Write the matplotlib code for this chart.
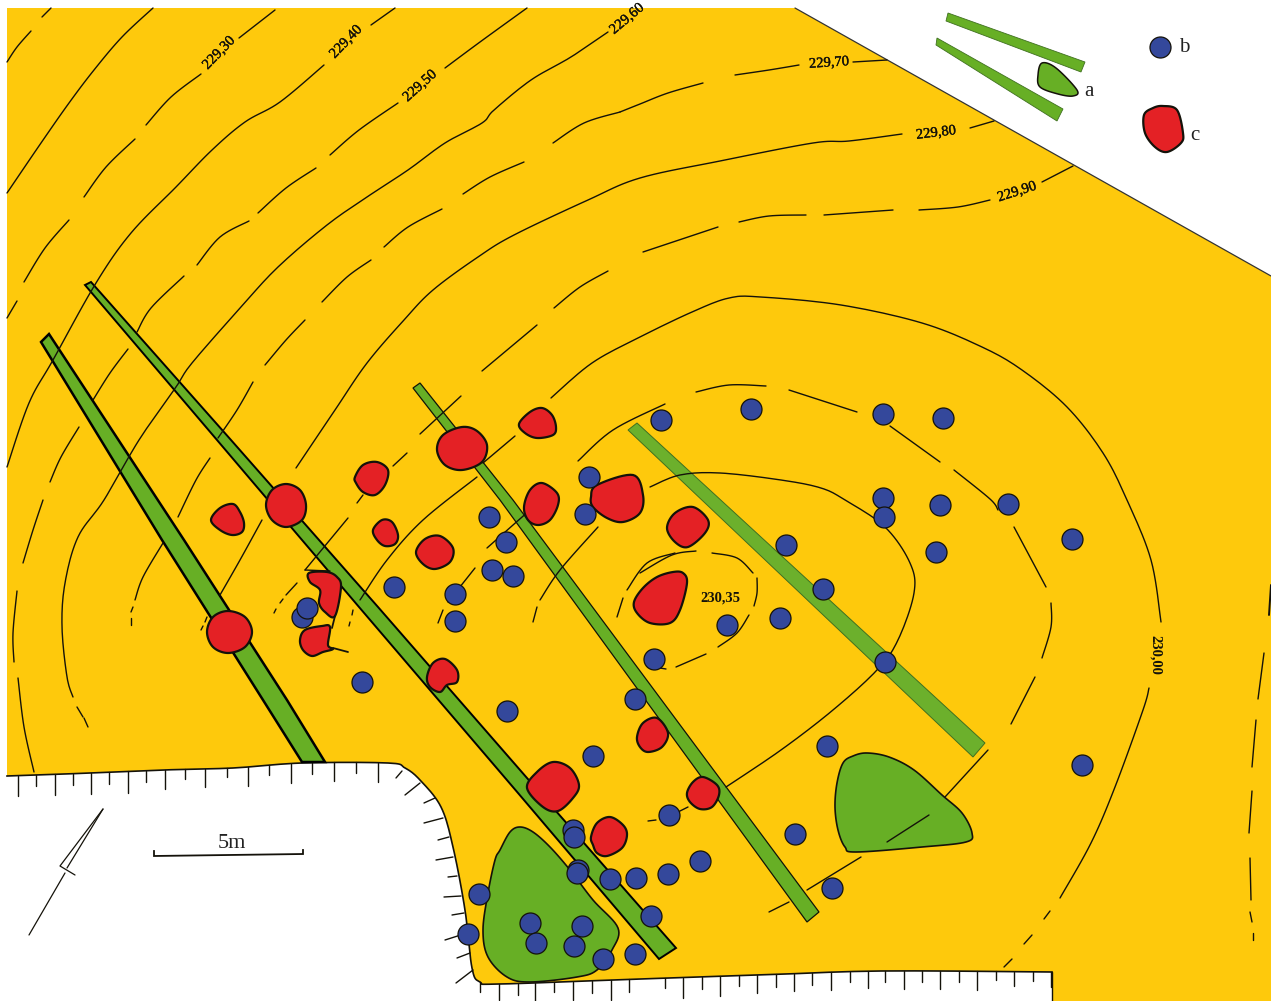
import numpy as np
import matplotlib
matplotlib.use("Agg")
import matplotlib.pyplot as plt
import matplotlib.patheffects as pe
from matplotlib.patches import Polygon

YELLOW = "#fec90c"
GREEN = "#67af25"
RED = "#e42125"
BLUE = "#34489b"
INK = "#14120a"
SERIF = ["Liberation Serif", "DejaVu Serif"]

# pit edge, left to right along the white cut-out
edge_pts = [(7, 776), (65, 774), (163, 770), (233, 768), (302, 763), (388, 763), (405, 768),
            (420, 780), (441, 807), (453, 847), (465, 910), (472, 968), (480, 982), (500, 984), (640, 979),
            (761, 975), (881, 971), (1052, 972)]
site_corners = [(1052, 1001), (1271, 1001), (1271, 276), (795, 8), (7, 8)]

# hachures
top_tick_x = [18, 36, 55, 73, 91, 109, 128, 146, 165, 185, 205, 227, 248, 269, 291, 312, 334, 356, 378]
top_tick_end = [796, 786, 795, 785, 794, 784, 793, 782, 789, 779, 787, 777, 786, 775, 783, 774, 781, 773, 782]
bottom_tick_x = [480, 499, 518, 535, 554, 573, 592, 611, 629, 665, 683, 702, 720, 739, 757, 776, 794, 812,
                 831, 850, 868, 885, 904, 922, 940, 959, 977, 996, 1014, 1033, 1051]
bottom_tick_end = [992, 1000, 995, 1001, 992, 1000, 993, 1000, 992, 988, 998, 989, 996, 986, 993, 987, 991,
                   985, 990, 982, 988, 982, 989, 982, 989, 982, 990, 980, 986, 981, 987]
side_ticks = [[(396, 778), (402, 771)], [(405, 795), (420, 783)], [(424, 803), (435, 798)],
              [(424, 823), (443, 818)], [(438, 840), (449, 837)], [(436, 860), (453, 857)],
              [(448, 877), (457, 876)], [(444, 897), (461, 896)], [(452, 915), (464, 913)],
              [(445, 940), (467, 933)], [(457, 958), (470, 953)], [(456, 983), (473, 970)]]

# contour lines, one list of dashes per level
level_a = [[(7, 62), (17, 47), (31, 31)], [(42, 17), (51, 8)]]
level_b = [[(153, 8), (122, 37), (94, 70), (69, 103), (41, 143), (7, 193)]]
level_c = [[(275, 10), (239, 38)], [(201, 74), (171, 97), (146, 125)], [(135, 139), (106, 167), (84, 197)],
           [(69, 220), (45, 248), (24, 282)], [(17, 301), (7, 318)]]
level_d = [[(395, 8), (371, 25)], [(324, 65), (280, 102), (245, 122), (212, 150), (176, 187), (131, 233),
                                   (96, 283), (53, 360), (29, 403), (7, 467)],
           [(43, 500), (33, 530), (23, 563)], [(17, 591), (13, 633), (14, 662)], [(18, 678), (24, 727), (34, 772)]]
level_e = [[(527, 8), (480, 42), (445, 68)], [(398, 103), (359, 130), (330, 155)], [(316, 168), (286, 188), (258, 213)],
           [(249, 221), (220, 237), (197, 265)], [(184, 276), (151, 308), (137, 332)], [(128, 349), (110, 373), (93, 400)],
           [(79, 427), (61, 457), (50, 482)]]
level_f = [[(608, 32), (571, 57), (531, 80), (494, 110), (482, 123), (445, 143), (408, 170), (367, 197), (327, 225),
            (278, 267), (241, 307), (192, 363), (176, 387), (139, 440), (104, 500), (78, 537), (65, 583), (62, 627),
            (67, 677), (73, 697)], [(77, 707), (83, 717)], [(84, 718), (88, 727)]]
level_g = [[(887, 60), (853, 62)], [(799, 65), (769, 70), (735, 75)], [(703, 83), (668, 93), (640, 104), (620, 112)],
           [(620, 112), (584, 123), (553, 143)], [(524, 162), (490, 177), (463, 194)], [(442, 209), (408, 227), (384, 247)],
           [(371, 260), (347, 277), (322, 302)], [(305, 320), (286, 340), (265, 365)], [(253, 382), (237, 410), (218, 438)],
           [(210, 458), (196, 480), (178, 517)], [(163, 543), (143, 577), (135, 600)], [(133, 607), (131, 612)],
           [(131, 618), (131, 625)]]
level_h = [[(994, 121), (970, 128)], [(902, 134), (849, 141), (813, 143), (720, 161), (640, 178), (588, 200), (514, 235),
                                      (478, 257), (433, 290), (404, 320), (367, 363), (335, 410), (296, 468)],
           [(262, 520), (240, 560), (220, 595)], [(207, 617), (205, 622)], [(203, 626), (201, 630)]]
level_i = [[(1073, 166), (1042, 182)], [(990, 200), (958, 207), (919, 210)], [(893, 210), (824, 215)],
           [(806, 215), (769, 216), (739, 222)], [(718, 227), (643, 252)], [(608, 271), (580, 287), (554, 308)],
           [(537, 325), (482, 371)], [(461, 396), (420, 434)], [(407, 453), (393, 466)], [(363, 495), (357, 503)],
           [(348, 518), (305, 570)], [(305, 570), (330, 571)], [(297, 583), (286, 595)], [(283, 599), (280, 603)],
           [(276, 609), (274, 613)]]
level_j = [[(515, 436), (483, 463)], [(477, 477), (423, 520), (387, 560), (360, 600)], [(353, 610), (352, 615)],
           [(350, 622), (349, 626)]]
level_230 = [[(1161, 622), (1151, 560), (1127, 500), (1103, 453), (1067, 407), (1022, 370), (982, 347), (922, 323),
              (841, 305), (761, 297), (729, 298), (692, 312), (640, 337), (592, 363), (551, 398)],
             [(1149, 688), (1143, 710), (1115, 787), (1091, 843), (1060, 898)], [(1050, 911), (1044, 919)],
             [(1032, 935), (1024, 944)], [(1012, 959), (1004, 967)]]
level_k = [[(665, 404), (613, 430), (578, 461)], [(696, 392), (729, 385), (766, 386)], [(789, 390), (857, 412)],
           [(890, 426), (940, 462)], [(954, 470), (990, 499), (998, 510)], [(1014, 527), (1046, 587)],
           [(1051, 603), (1051, 627), (1042, 658)], [(1035, 677), (1011, 724)], [(988, 750), (945, 797)],
           [(929, 815), (887, 842)], [(861, 857), (807, 890)], [(789, 902), (769, 912)],
           [(598, 527), (560, 570), (540, 600)], [(537, 607), (533, 622)]]
level_l = [[(530, 510), (487, 548)], [(475, 568), (448, 602)], [(443, 610), (438, 623)]]
level_m = [[(650, 487), (680, 475), (720, 473), (781, 480), (821, 488), (845, 500), (885, 527), (910, 563), (914, 593),
            (898, 640), (877, 670), (833, 710), (781, 750), (726, 787)], [(688, 807), (678, 812)], [(656, 820), (648, 821)],
           [(675, 553), (647, 563), (627, 590)], [(623, 598), (617, 617)]]
level_top = [[(696, 551), (672, 555), (640, 573)], [(712, 553), (737, 558), (753, 573)], [(757, 578), (757, 593), (754, 606)],
             [(749, 615), (737, 633), (718, 647)], [(706, 654), (676, 667)], [(666, 669), (660, 668)]]
level_east = [[(1264, 653), (1258, 699)], [(1256, 720), (1252, 767)], [(1252, 791), (1249, 833)],
              [(1250, 858), (1251, 900)], [(1250, 912), (1252, 922)], [(1253, 933), (1253, 940)]]
contours = [level_a, level_b, level_c, level_d, level_e, level_f, level_g, level_h, level_i,
            level_j, level_230, level_k, level_l, level_m, level_top, level_east]

label_text = ["229,30", "229,40", "229,50", "229,60", "229,70", "229,80", "229,90", "230,00", "230,35"]
label_xy = [(219, 53), (346, 42), (420, 86), (627, 19), (829, 63), (936, 133), (1017, 192), (1155, 655), (720, 598)]
label_rot = [46, 46, 42, 40, 4, 7, 18, 270, 0]

# trenches, drawn as a left side and a right side from the north end down
strip_1_left = [(41, 342), (162, 540), (263, 700), (302, 762)]
strip_1_right = [(49, 334), (184, 540), (287, 700), (325, 762)]
strip_2_left = [(85, 285), (217, 440), (359, 607), (518, 793), (659, 959)]
strip_2_right = [(91, 282), (231, 440), (378, 607), (527, 778), (676, 948)]
strip_3_left = [(413, 388), (500, 500), (807, 922)]
strip_3_right = [(420, 383), (513, 500), (819, 912)]
strip_4_left = [(628, 430), (973, 757)]
strip_4_right = [(637, 423), (985, 743)]
key_strip_1 = [(948, 13), (1085, 62), (1081, 72), (946, 21)]
key_strip_2 = [(937, 38), (1063, 109), (1057, 121), (936, 45)]

# green areas
pit_west = [(500, 850), (510, 832), (520, 827), (533, 832), (550, 847), (570, 870), (593, 900), (618, 928), (612, 950),
            (597, 970), (577, 977), (530, 982), (507, 977), (488, 957), (483, 930), (488, 893), (495, 860)]
pit_east = [(867, 753), (889, 757), (914, 770), (942, 795), (962, 813), (972, 833), (966, 842), (922, 847),
            (856, 852), (845, 847), (838, 830), (835, 807), (837, 783), (843, 763), (853, 756)]
key_pit = [(1042, 63), (1056, 68), (1077, 90), (1073, 96), (1058, 94), (1040, 87), (1038, 75)]

# red features
red_features = [
    [(207, 632), (213, 617), (228, 611), (245, 617), (252, 632), (245, 647), (228, 653), (213, 647)],
    [(266, 505), (272, 490), (286, 484), (300, 490), (306, 505), (302, 520), (286, 527), (272, 520)],
    [(211, 520), (220, 508), (233, 504), (240, 512), (244, 523), (242, 532), (232, 535), (220, 530)],
    [(437, 450), (443, 435), (462, 427), (477, 431), (487, 445), (482, 462), (462, 470), (445, 465)],
    [(519, 424), (530, 412), (542, 408), (552, 415), (556, 427), (553, 435), (537, 438), (525, 433)],
    [(355, 477), (363, 465), (377, 462), (388, 470), (385, 485), (375, 495), (363, 492), (356, 483)],
    [(373, 530), (382, 520), (392, 522), (398, 535), (395, 544), (385, 546), (377, 540)],
    [(416, 552), (425, 539), (440, 536), (453, 548), (450, 562), (435, 569), (423, 564)],
    [(524, 507), (530, 490), (542, 483), (557, 493), (558, 505), (550, 520), (538, 525), (528, 520)],
    [(591, 497), (597, 485), (633, 475), (643, 495), (640, 513), (623, 522), (607, 518), (593, 507)],
    [(667, 528), (675, 513), (693, 507), (708, 520), (705, 533), (688, 547), (675, 542)],
    [(634, 602), (643, 588), (657, 577), (673, 572), (683, 573), (687, 583), (680, 610), (670, 623), (650, 623), (637, 613)],
    [(309, 573), (327, 572), (337, 577), (341, 587), (335, 616), (325, 612), (319, 603), (320, 590), (310, 582)],
    [(300, 640), (305, 630), (322, 626), (330, 627), (328, 645), (333, 649), (323, 652), (312, 656), (303, 650)],
    [(427, 677), (433, 663), (445, 659), (457, 670), (457, 682), (447, 685), (440, 692), (430, 687)],
    [(527, 788), (537, 772), (553, 762), (570, 768), (579, 785), (573, 798), (558, 811), (543, 807)],
    [(591, 837), (597, 823), (610, 817), (623, 825), (627, 835), (622, 848), (607, 856), (597, 853), (593, 845)],
    [(637, 737), (643, 723), (657, 718), (668, 733), (662, 747), (648, 752), (640, 747)],
    [(687, 793), (693, 782), (703, 777), (717, 785), (719, 795), (712, 807), (700, 809), (690, 802)],
    [(1163, 106), (1177, 110), (1183, 133), (1181, 143), (1167, 152), (1155, 147), (1145, 133), (1144, 115), (1153, 108)],
]
red_ticks = [[(335, 616), (332, 628)], [(333, 648), (348, 652)]]

# blue post holes
post_x = [661, 751, 883, 943, 589, 883, 940, 1008, 884, 489, 585, 786, 936, 1072, 506, 492, 513, 823, 394, 455, 455,
          302, 307, 727, 780, 654, 885, 362, 635, 507, 593, 827, 1082, 669, 795, 573, 574, 700, 668, 636, 610, 578,
          577, 832, 479, 651, 530, 582, 468, 536, 574, 603, 635, 1160]
post_y = [420, 409, 414, 418, 477, 498, 505, 504, 517, 517, 514, 545, 552, 539, 542, 570, 576, 589, 587, 594, 621,
          617, 608, 625, 618, 659, 662, 682, 699, 711, 756, 746, 765, 815, 834, 830, 837, 861, 874, 878, 879, 870,
          873, 888, 894, 916, 923, 926, 934, 943, 946, 959, 954, 47]

north_arrow = [[(29, 935), (65, 873)], [(103, 809), (60, 866), (75, 875)], [(103, 809), (67, 868)]]
scale_bar = [(154, 851), (154, 856), (303, 854), (303, 850)]


def spline(points, closed=False, steps=10):
    """Catmull-Rom through the hand-read points."""
    pts = np.asarray(points, dtype=float)
    if closed:
        pts = np.vstack([pts[-1], pts, pts[0], pts[1]])
    else:
        pts = np.vstack([pts[0], pts, pts[-1]])
    out = []
    t = np.linspace(0, 1, steps, endpoint=False)[:, None]
    for p0, p1, p2, p3 in zip(pts[:-3], pts[1:-2], pts[2:-1], pts[3:]):
        out.append(0.5 * (2 * p1 + (p2 - p0) * t + (2 * p0 - 5 * p1 + 4 * p2 - p3) * t ** 2
                          + (3 * p1 - p0 - 3 * p2 + p3) * t ** 3))
    out = np.vstack(out)
    return out if closed else np.vstack([out, pts[-2]])


def line(ax, points, lw=1.0, color=INK, z=3, curve=True):
    pts = spline(points) if curve and len(points) > 2 else np.asarray(points, dtype=float)
    ax.plot(pts[:, 0], pts[:, 1], color=color, lw=lw, zorder=z, solid_capstyle="round", solid_joinstyle="round")


fig = plt.figure(figsize=(12.71, 10.01), dpi=100)
ax = fig.add_axes([0, 0, 1, 1])
ax.set_xlim(0, 1271)
ax.set_ylim(1001, 0)
ax.axis("off")

edge = spline(edge_pts)
site = Polygon(np.vstack([edge, site_corners]), closed=True, facecolor=YELLOW, edgecolor="none", zorder=1)
ax.add_patch(site)
line(ax, [(795, 8), (1271, 276)], lw=0.9, color="#333333", z=2, curve=False)
ax.plot(edge[:, 0], edge[:, 1], color=INK, lw=1.2, zorder=2)
line(ax, [(1052, 972), (1052, 1001)], lw=1.0, z=2, curve=False)

edge_y = np.interp(top_tick_x, edge[:, 0], edge[:, 1])
for x, y0, y1 in zip(top_tick_x, edge_y, top_tick_end):
    line(ax, [(x, y0), (x, y1)], z=2, curve=False)
edge_y = np.interp(bottom_tick_x, edge[:, 0], edge[:, 1])
for x, y0, y1 in zip(bottom_tick_x, edge_y, bottom_tick_end):
    line(ax, [(x, y0), (x, y1)], z=2, curve=False)
for seg in side_ticks:
    line(ax, seg, z=2, curve=False)

for pit in (pit_west, pit_east):
    ax.add_patch(Polygon(spline(pit, closed=True), closed=True, facecolor=GREEN, edgecolor=INK, lw=1.2, zorder=2))

# strips: left side, right side, fill, side edge colour, side edge width
strip_styles = [(strip_1_left, strip_1_right, GREEN, "black", 1.8),
                (strip_2_left, strip_2_right, GREEN, "black", 1.4),
                (strip_3_left, strip_3_right, GREEN, "#101408", 0.9),
                (strip_4_left, strip_4_right, "#6cb02c", "#3f7020", 0.7)]
for left, right, fill, ec, lw in strip_styles:
    ring = left + right[::-1]
    ax.add_patch(Polygon(ring, closed=True, facecolor=fill, edgecolor=ec, lw=lw, zorder=2.5))

for level in contours:
    for dash in level:
        line(ax, dash)
line(ax, [(1271, 585), (1269, 615)], lw=1.4, curve=False)

for outline in red_features:
    ax.add_patch(Polygon(spline(outline, closed=True), closed=True, facecolor=RED, edgecolor=INK, lw=1.6, zorder=4))
for seg in red_ticks:
    line(ax, seg, lw=1.3, z=4, curve=False)

# 21 px across at dpi 100
ax.scatter(post_x, post_y, s=(21 * 72 / 100) ** 2, c=BLUE, edgecolors=INK, linewidths=0.9, zorder=5)

for txt, (x, y), rot in zip(label_text, label_xy, label_rot):
    bold = txt in ("230,35", "230,00")
    t = ax.text(x, y, txt, family=SERIF, fontsize=10.5, fontweight="bold" if bold else "normal",
                rotation=rot, rotation_mode="anchor", ha="center", va="center", color=INK, zorder=6)
    if not bold:
        t.set_path_effects([pe.withStroke(linewidth=0.25, foreground=INK)])
    t.set_clip_path(site)

# key, top right
ax.add_patch(Polygon(key_strip_1, closed=True, facecolor=GREEN, edgecolor="#3f7020", lw=0.6, zorder=3))
ax.add_patch(Polygon(key_strip_2, closed=True, facecolor=GREEN, edgecolor="#3f7020", lw=0.6, zorder=3))
ax.add_patch(Polygon(spline(key_pit, closed=True), closed=True, facecolor=GREEN, edgecolor=INK, lw=1.1, zorder=3))
ax.text(1089, 92, "a", family=SERIF, fontsize=15, ha="center", va="center", color="#222222")
ax.text(1184, 48, "b", family=SERIF, fontsize=15, ha="center", va="center", color="#222222")
ax.text(1195, 136, "c", family=SERIF, fontsize=15, ha="center", va="center", color="#222222")

# north arrow and scale
for seg in north_arrow:
    line(ax, seg, lw=0.9, curve=False)
sb = np.array(scale_bar)
ax.plot(sb[:, 0], sb[:, 1], color=INK, lw=1.3, solid_joinstyle="miter")
ax.text(232, 843, "5m", family=SERIF, fontsize=16, ha="center", va="center", color="#222222")

fig.savefig("out.png", dpi=100)
